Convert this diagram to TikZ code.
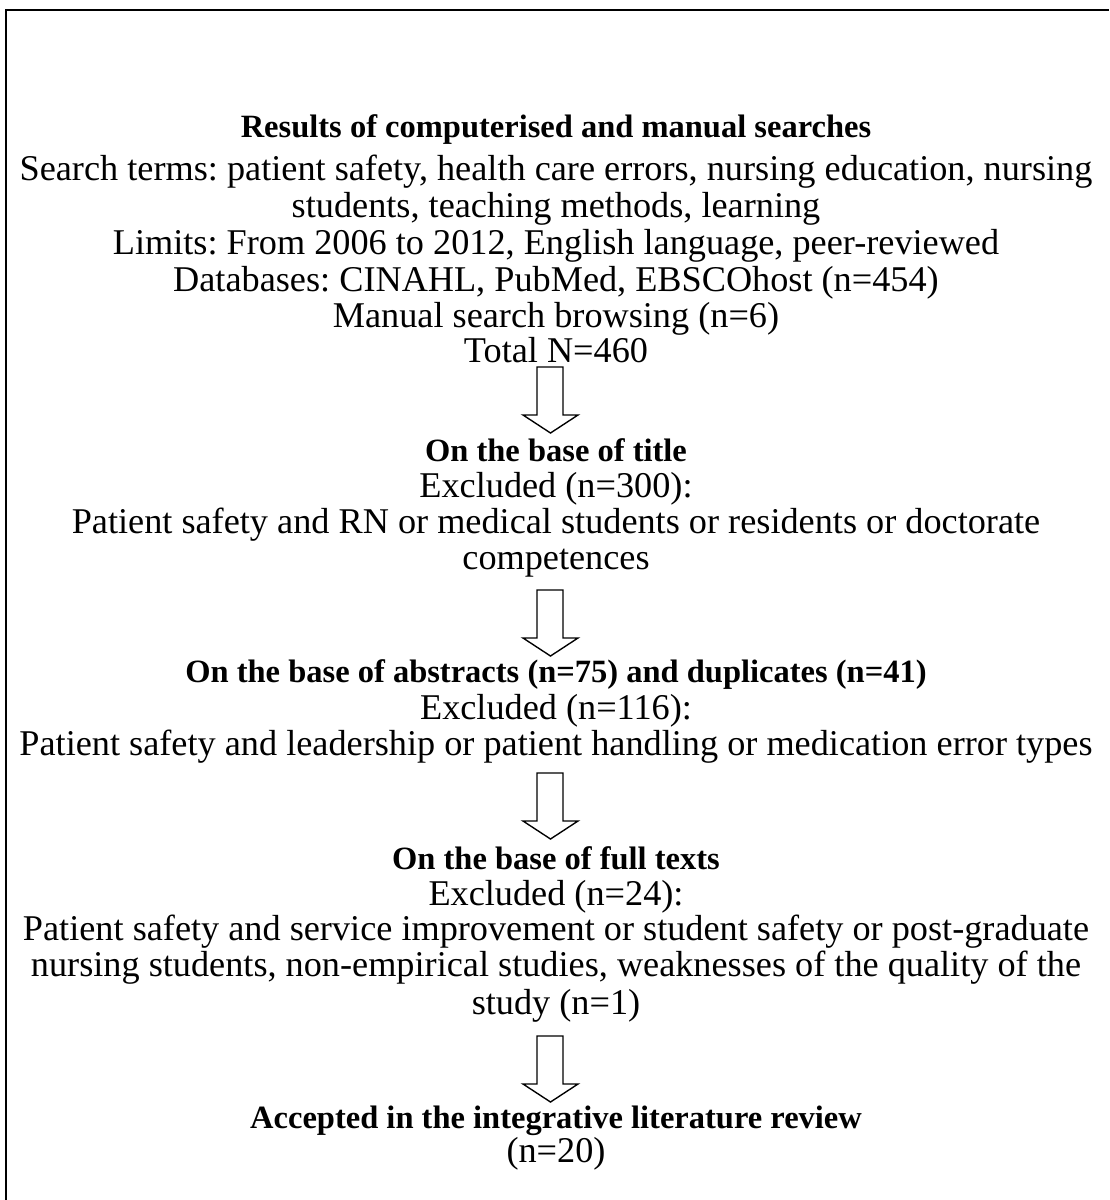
\documentclass[tikz,border=0pt]{standalone}
\usepackage{fontspec}
\setmainfont{Liberation Serif}
\frenchspacing
\begin{document}
\begin{tikzpicture}[x=0.4pt,y=-0.4pt,
  txt/.style={inner sep=0pt, anchor=base, font=\fontsize{14.5}{17}\selectfont},
  btxt/.style={txt, font=\fontsize{13}{16}\selectfont\bfseries},
  frame/.style={line width=1.1pt},
  barrow/.style={line width=0.55pt, line join=miter}]
\useasboundingbox (0,0) rectangle (1109,1200);
\draw[frame] (6,1200) -- (6,10) -- (1109,10);
\def\cx{556}
\newcommand{\blockarrow}[2]{%
  \draw[barrow] (537,#2) -- (563,#2) -- (563,#2+48) -- (578,#2+48) -- (550.5,#2+66)
    -- (523,#2+48) -- (537,#2+48) -- cycle;}
% block 1
\node[btxt] (t1) at (\cx,137) {Results of computerised and manual searches};
\node[txt] (t2) at (\cx,180) {Search terms: patient safety, health care errors, nursing education, nursing};
\node[txt] (t3) at (\cx,217) {students, teaching methods, learning};
\node[txt] (t4) at (\cx,254) {Limits: From 2006 to 2012, English language, peer-reviewed};
\node[txt] (t5) at (\cx,291) {Databases: CINAHL, PubMed, EBSCOhost (n=454)};
\node[txt] (t6) at (\cx,327) {Manual search browsing (n=6)};
\node[txt] (t7) at (\cx,362) {Total N=460};
\blockarrow{550}{367}
% block 2
\node[btxt] (b1) at (\cx,461) {On the base of title};
\node[txt] (b2) at (\cx,497) {Excluded (n=300):};
\node[txt] (b3) at (\cx,533) {Patient safety and RN or medical students or residents or doctorate};
\node[txt] (b4) at (\cx,569) {competences};
\blockarrow{550}{590}
% block 3
\node[btxt] (c1) at (\cx,682) {On the base of abstracts (n=75) and duplicates (n=41)};
\node[txt] (c2) at (\cx,719) {Excluded (n=116):};
\node[txt] (c3) at (\cx,755) {Patient safety and leadership or patient handling or medication error types};
\blockarrow{550}{773}
% block 4
\node[btxt] (d1) at (\cx,869) {On the base of full texts};
\node[txt] (d2) at (\cx,905) {Excluded (n=24):};
\node[txt] (d3) at (\cx,940) {Patient safety and service improvement or student safety or post-graduate};
\node[txt] (d4) at (\cx,976) {nursing students, non-empirical studies, weaknesses of the quality of the};
\node[txt] (d5) at (\cx,1014) {study (n=1)};
\blockarrow{550}{1036}
% block 5
\node[btxt] (e1) at (\cx,1128) {Accepted in the integrative literature review};
\node[txt] (e2) at (\cx,1162) {(n=20)};
\end{tikzpicture}
\end{document}
